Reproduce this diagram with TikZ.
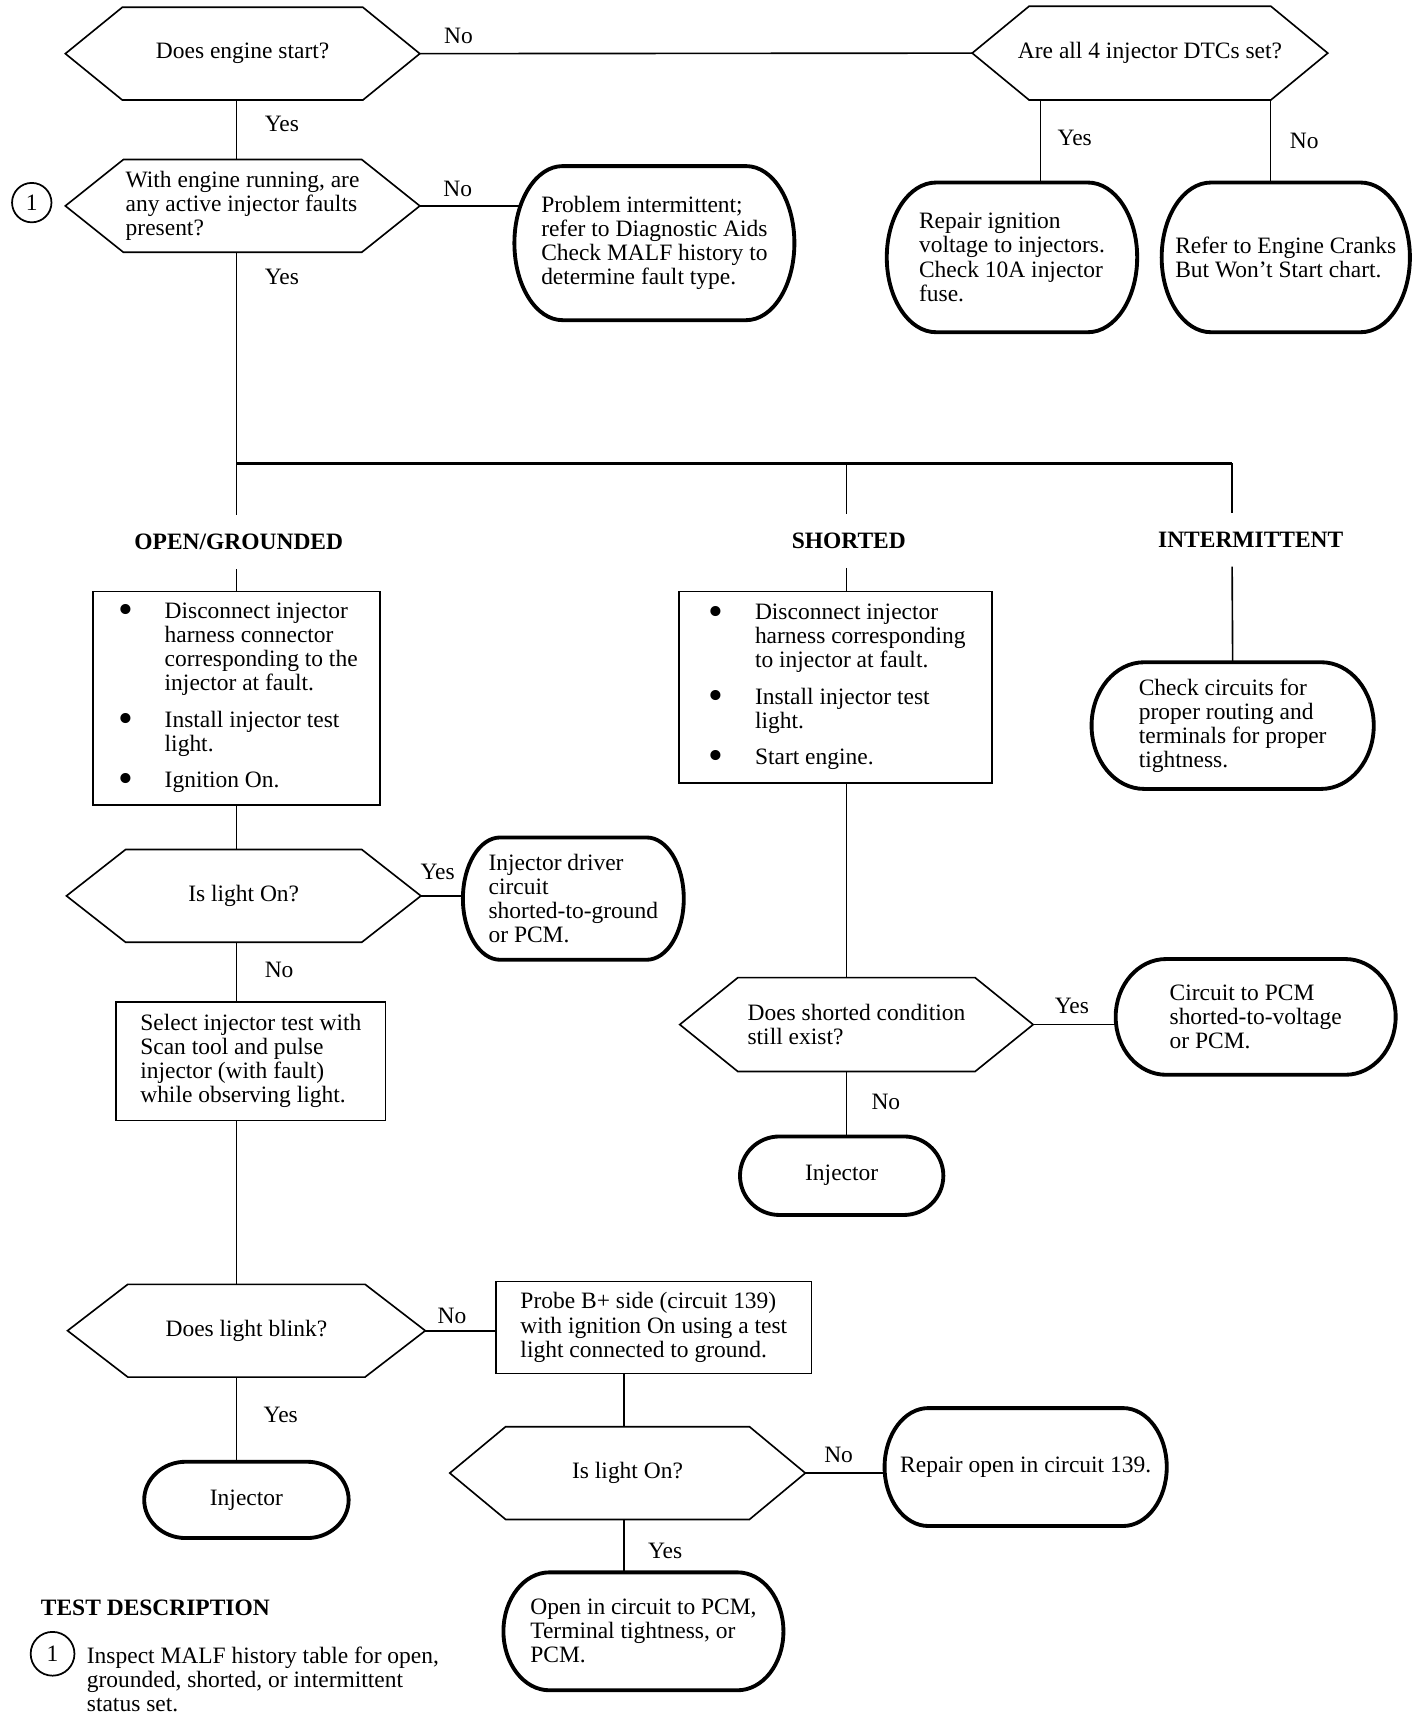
\documentclass[tikz,border=0pt]{standalone}
\usepackage{fontspec}
\setmainfont{Liberation Serif}
\usetikzlibrary{positioning,calc}

\newcommand{\chartfont}{\fontsize{12.2}{12.5}\selectfont}
\newcommand{\stepdot}{\hspace{0.05cm}\raisebox{-0.22em}{\scalebox{1.8}{\textbullet}}}
\tikzset{
  line/.style={line width=0.85pt},
  forkline/.style={line width=1.3pt},
  hexedge/.style={line width=0.85pt, line join=miter},
  termedge/.style={line width=2pt, line join=round},
  ask/.style={inner sep=0pt, align=center},
  stepbox/.style={draw, line width=0.85pt, inner sep=0pt, align=left},
  endtext/.style={inner sep=0pt, align=left},
  branchtag/.style={font=\chartfont\bfseries, inner xsep=0pt, inner ysep=0.34cm},
  yn/.style={inner sep=0pt},
  refmark/.style={draw, circle, line width=0.9pt, inner sep=0pt},
}
% hexagon round a decision node, #2 = slant
\newcommand{\hexline}[2]{%
  \draw[hexedge] (#1.west) -- ($(#1.north west)+(#2,0)$) -- ($(#1.north east)+(-#2,0)$)
    -- (#1.east) -- ($(#1.south east)+(-#2,0)$) -- ($(#1.south west)+(#2,0)$) -- cycle;}
% rounded end box round a result node, #2 = end radius
\newcommand{\termline}[2]{%
  \draw[termedge] ($(#1.north west)+(#2,0)$) -- ($(#1.north east)+(-#2,0)$)
    .. controls ($(#1.north east)+({-0.448*#2},0)$) and ($(#1.east)!0.552!(#1.north east)$) .. (#1.east)
    .. controls ($(#1.east)!0.552!(#1.south east)$) and ($(#1.south east)+({-0.448*#2},0)$) .. ($(#1.south east)+(-#2,0)$)
    -- ($(#1.south west)+(#2,0)$)
    .. controls ($(#1.south west)+({0.448*#2},0)$) and ($(#1.west)!0.552!(#1.south west)$) .. (#1.west)
    .. controls ($(#1.west)!0.552!(#1.north west)$) and ($(#1.north west)+({0.448*#2},0)$) .. cycle;}

\begin{document}
\begin{tikzpicture}[x=0.02cm, y=-0.02cm, every node/.style={font=\chartfont}]
\useasboundingbox (0,0) rectangle (1300,1565);

% top row
\node[name=enginestart, ask, minimum width=6.46cm, minimum height=1.68cm] at (221.5,49) {Does engine start?};
\node[name=activefaults, ask, align=left, minimum width=6.46cm, minimum height=1.68cm] at (221.5,188) {With engine running, are\\any active injector faults\\present?};
\node[name=faultmark, refmark, minimum size=0.72cm] at (29,185) {1};
\node[name=alldtcs, ask, minimum width=6.48cm, minimum height=1.7cm] at (1050,48.5) {Are all 4 injector DTCs set?};
\node[name=recheck, endtext, minimum width=5.1cm, minimum height=2.8cm] at (597.5,222) {Problem intermittent;\\refer to Diagnostic Aids\\Check MALF history to\\determine fault type.};
\node[name=repairign, endtext, minimum width=4.56cm, minimum height=2.72cm] at (924,235) {Repair ignition\\voltage to injectors.\\Check 10A injector\\fuse.};
\node[name=crankchart, endtext, minimum width=4.52cm, minimum height=2.72cm] at (1174,235) {Refer to Engine Cranks\\But Won't Start chart.};

% fault types
\node[name=openlbl, branchtag] at (218,495) {OPEN/GROUNDED};
\node[name=shortlbl, branchtag] at (775,494) {SHORTED};
\node[name=intlbl, branchtag] at (1142,493) {INTERMITTENT};

\node[name=openchecks, stepbox, minimum width=5.24cm, minimum height=3.9cm] at (216,637.5) {%
\begin{tabular}{@{}p{0.9cm}@{}l@{}}
\stepdot & Disconnect injector\\
 & harness connector\\
 & corresponding to the\\
 & injector at fault.\\[0.22cm]
\stepdot & Install injector test\\
 & light.\\[0.22cm]
\stepdot & Ignition On.
\end{tabular}};
\node[name=shortchecks, stepbox, minimum width=5.72cm, minimum height=3.5cm] at (763,627.5) {%
\begin{tabular}{@{}p{0.9cm}@{}l@{}}
\stepdot & Disconnect injector\\
 & harness corresponding\\
 & to injector at fault.\\[0.22cm]
\stepdot & Install injector test\\
 & light.\\[0.22cm]
\stepdot & Start engine.
\end{tabular}};
\node[name=routing, endtext, minimum width=5.14cm, minimum height=2.3cm] at (1125.5,662.5) {Check circuits for\\proper routing and\\terminals for proper\\tightness.};

% open/grounded column
\node[name=lighton, ask, minimum width=6.46cm, minimum height=1.68cm] at (222.5,818) {Is light On?};
\node[name=groundshort, endtext, minimum width=4.02cm, minimum height=2.22cm] at (523.5,820.5) {Injector driver\\circuit\\shorted-to-ground\\or PCM.};
\node[name=pulsetest, stepbox, minimum width=4.92cm, minimum height=2.16cm] at (229,969) {Select injector test with\\Scan tool and pulse\\injector (with fault)\\while observing light.};
\node[name=blink, ask, minimum width=6.52cm, minimum height=1.68cm] at (225,1215) {Does light blink?};
\node[name=probe, stepbox, minimum width=5.76cm, minimum height=1.68cm] at (597,1212) {Probe B+ side (circuit 139)\\with ignition On using a test\\light connected to ground.};
\node[name=lightonb, ask, minimum width=6.48cm, minimum height=1.68cm] at (573,1345) {Is light On?};
\node[name=repairopen, endtext, minimum width=5.14cm, minimum height=2.14cm] at (936.5,1339.5) {Repair open in circuit 139.};
\node[name=pcmopen, endtext, minimum width=5.1cm, minimum height=2.14cm] at (587.5,1489.5) {Open in circuit to PCM,\\Terminal tightness, or\\PCM.};
\node[name=injectora, endtext, minimum width=3.72cm, minimum height=1.38cm] at (225,1369.5) {Injector};

% shorted column
\node[name=stillshort, ask, align=left, minimum width=6.44cm, minimum height=1.7cm] at (782,935.5) {Does shorted condition\\still exist?};
\node[name=voltshort, endtext, minimum width=5.1cm, minimum height=2.1cm] at (1146.5,928.5) {Circuit to PCM\\shorted-to-voltage\\or PCM.};
\node[name=injectorb, endtext, minimum width=3.7cm, minimum height=1.42cm] at (768.5,1073.5) {Injector};

% test description
\node[name=testhead, anchor=west, font=\chartfont\bfseries, inner sep=0pt] at (37,1468) {TEST DESCRIPTION};
\node[name=testmark, refmark, minimum size=0.8cm] at (48,1510) {1};
\node[name=testtext, anchor=west, align=left, inner sep=0pt] at (79,1533) {Inspect MALF history table for open,\\grounded, shorted, or intermittent\\status set.};

% outlines
\hexline{enginestart}{52}
\hexline{activefaults}{53}
\hexline{alldtcs}{52}
\hexline{lighton}{54}
\hexline{blink}{55}
\hexline{lightonb}{51}
\hexline{stillshort}{53}
\termline{recheck}{44}
\termline{repairign}{45}
\termline{crankchart}{45}
\termline{routing}{48}
\termline{groundshort}{34}
\termline{voltshort}{46}
\termline{injectorb}{36}
\termline{repairopen}{40}
\termline{pcmopen}{42}
\termline{injectora}{38}

% connectors
\coordinate (leftcol) at (216,0);
\coordinate (midcol) at (773,0);
\coordinate (intcol) at (1125,0);
\coordinate (yescol) at (950,0);
\coordinate (nocol) at (1160,0);
\coordinate (probecol) at (570,0);
\coordinate (fork) at (216,423);

\draw[line] (enginestart.east) -- (alldtcs.west) node[yn, pos=0.07, above=0.16cm]{No};
\draw[line] (enginestart.south -| leftcol) -- (activefaults.north -| leftcol) node[yn, pos=0.4, right=0.5cm]{Yes};
\draw[line, shorten >=-0.11cm] (activefaults.east) -- (activefaults.east -| recheck.west) node[yn, pos=0.4, above=0.16cm]{No};
\draw[line] (alldtcs.south -| yescol) -- (repairign.north -| yescol) node[yn, pos=0.46, right=0.3cm]{Yes};
\draw[line] (alldtcs.south -| nocol) -- (crankchart.north -| nocol) node[yn, pos=0.49, right=0.34cm]{No};
\draw[line] (activefaults.south -| leftcol) -- (openlbl.north -| leftcol) node[yn, pos=0.095, right=0.5cm]{Yes};
\draw[forkline] (fork) -- (fork -| intcol);
\draw[line] (fork -| midcol) -- (shortlbl.north -| midcol);
\draw[line] (fork -| intcol) -- (intlbl.north -| intcol);
\draw[line] (openlbl.south -| leftcol) -- (openchecks.north -| leftcol);
\draw[line] (shortlbl.south -| midcol) -- (shortchecks.north -| midcol);
\draw[line] (intlbl.south -| intcol) -- (routing.north);
\draw[line] (openchecks.south -| leftcol) -- (lighton.north -| leftcol);
\draw[line] (lighton.east) -- (lighton.east -| groundshort.west) node[yn, pos=0.4, above=0.28cm]{Yes};
\draw[line] (lighton.south -| leftcol) -- (pulsetest.north -| leftcol) node[yn, pos=0.47, right=0.5cm]{No};
\draw[line] (pulsetest.south -| leftcol) -- (blink.north -| leftcol);
\draw[line] (blink.east) -- (blink.east -| probe.west) node[yn, pos=0.38, above=0.12cm]{No};
\draw[line] (blink.south -| leftcol) -- (injectora.north -| leftcol) node[yn, pos=0.45, right=0.48cm]{Yes};
\draw[line] (probe.south -| probecol) -- (lightonb.north -| probecol);
\draw[line] (lightonb.east) -- (lightonb.east -| repairopen.west) node[yn, pos=0.42, above=0.18cm]{No};
\draw[line] (lightonb.south -| probecol) -- (pcmopen.north -| probecol) node[yn, pos=0.59, right=0.42cm]{Yes};
\draw[line] (shortchecks.south -| midcol) -- (stillshort.north -| midcol);
\draw[line] (stillshort.east) -- (stillshort.east -| voltshort.west) node[yn, pos=0.47, above=0.18cm]{Yes};
\draw[line] (stillshort.south -| midcol) -- (injectorb.north -| midcol) node[yn, pos=0.47, right=0.44cm]{No};
\end{tikzpicture}
\end{document}
